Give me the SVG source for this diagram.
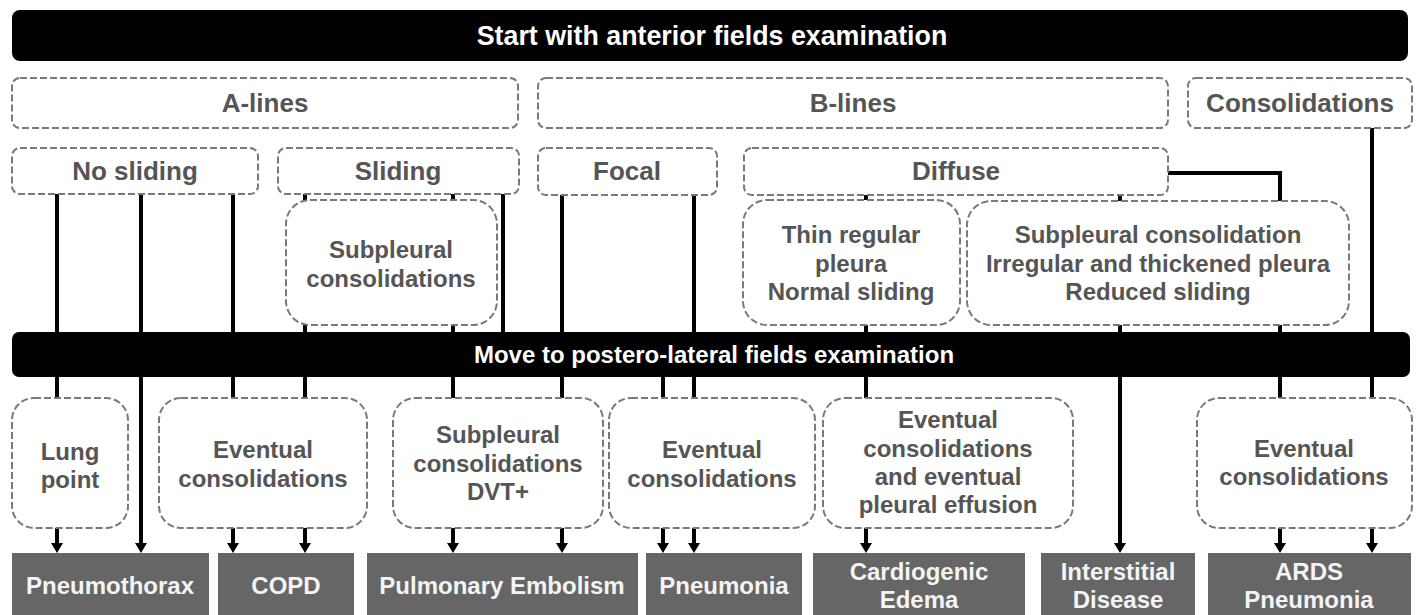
<svg xmlns="http://www.w3.org/2000/svg" width="1417" height="615" viewBox="0 0 1417 615">
<style>
.bar{fill:#000}
.bartxt{fill:#fff;font-family:"Liberation Sans",Arial,sans-serif;font-weight:bold;text-anchor:middle}
.dash{fill:#fff;stroke:#7a7a7a;stroke-width:2;stroke-dasharray:7 3}
.t{fill:#555;font-family:"Liberation Sans",Arial,sans-serif;font-weight:bold;text-anchor:middle}
.t26{font-size:26px}
.t24{font-size:24px}
.res{fill:#666}
.rt{fill:#f4f4f4;font-family:"Liberation Sans",Arial,sans-serif;font-weight:bold;text-anchor:middle;font-size:24px}
.c{fill:none;stroke:#000;stroke-width:4}
.a{fill:none;stroke:#000;stroke-width:4;marker-end:url(#ah)}
</style>
<defs>
<marker id="ah" markerUnits="userSpaceOnUse" markerWidth="10" markerHeight="12" viewBox="0 0 10 12" refX="2" refY="6" orient="auto">
<path d="M0,0 L10,6 L0,12 z" fill="#000"/>
</marker>
</defs>
<rect width="1417" height="615" fill="#fff"/>

<g id="connectors">
<path class="c" d="M57,194 V332 M57,377 V398"/>
<path class="a" d="M57,528 V545"/>
<path class="c" d="M141,194 V332"/>
<path class="a" d="M141,377 V545"/>
<path class="c" d="M233,194 V332 M233,377 V398"/>
<path class="a" d="M233,528 V545"/>
<path class="c" d="M305,194 V201 M305,325 V332 M305,377 V398"/>
<path class="a" d="M305,528 V545"/>
<path class="c" d="M453,194 V201 M453,325 V332 M453,377 V398"/>
<path class="a" d="M453,528 V545"/>
<path class="c" d="M503,194 V332"/>
<path class="c" d="M562,195 V332 M562,377 V398"/>
<path class="a" d="M562,528 V545"/>
<path class="c" d="M663,377 V398"/>
<path class="a" d="M663,528 V545"/>
<path class="c" d="M694,195 V332 M694,377 V398"/>
<path class="a" d="M694,528 V545"/>
<path class="c" d="M866,195 V201 M866,325 V332 M866,377 V398"/>
<path class="a" d="M866,528 V545"/>
<path class="c" d="M1120,195 V201 M1120,325 V332"/>
<path class="a" d="M1120,377 V545"/>
<path class="c" d="M1168,173 H1280 V201 M1280,325 V332 M1280,377 V398"/>
<path class="a" d="M1280,528 V545"/>
<path class="c" d="M1372,128 V332 M1372,377 V398"/>
<path class="a" d="M1372,528 V545"/>
</g>

<g id="start">
<rect class="bar" x="12" y="10" width="1396" height="51" rx="8"/>
<text class="bartxt" x="712" y="45" font-size="26.8">Start with anterior fields examination</text>
</g>

<g id="alines"><rect class="dash" x="12" y="78" width="506" height="50" rx="8"/><text class="t t26" x="265" y="112">A-lines</text></g>
<g id="blines"><rect class="dash" x="538" y="78" width="630" height="50" rx="8"/><text class="t t26" x="853" y="112">B-lines</text></g>
<g id="consolidations"><rect class="dash" x="1188" y="78" width="224" height="50" rx="8"/><text class="t t26" x="1300" y="112">Consolidations</text></g>

<g id="nosliding"><rect class="dash" x="12" y="148" width="246" height="46" rx="8"/><text class="t t26" x="135" y="180">No sliding</text></g>
<g id="sliding"><rect class="dash" x="278" y="148" width="241" height="46" rx="8"/><text class="t t26" x="398" y="180">Sliding</text></g>
<g id="focal"><rect class="dash" x="538" y="148" width="179" height="47" rx="8"/><text class="t t26" x="627" y="180">Focal</text></g>
<g id="diffuse"><rect class="dash" x="744" y="148" width="424" height="47" rx="8"/><text class="t t26" x="956" y="180">Diffuse</text></g>

<g id="subpleural1"><rect class="dash" x="286" y="200" width="211" height="125" rx="24"/>
<text class="t t24" x="391" y="258">Subpleural</text><text class="t t24" x="391" y="287">consolidations</text></g>
<g id="thin"><rect class="dash" x="743" y="200" width="217" height="125" rx="24"/>
<text class="t t24" x="851" y="243">Thin regular</text><text class="t t24" x="851" y="272">pleura</text><text class="t t24" x="851" y="300">Normal sliding</text></g>
<g id="irregular"><rect class="dash" x="967" y="201" width="382" height="124" rx="24"/>
<text class="t t24" x="1158" y="243">Subpleural consolidation</text><text class="t t24" x="1158" y="272">Irregular and thickened pleura</text><text class="t t24" x="1158" y="300">Reduced sliding</text></g>

<g id="move">
<rect class="bar" x="12" y="332" width="1398" height="45" rx="7"/>
<text class="bartxt" x="714" y="363" font-size="24">Move to postero-lateral fields examination</text>
</g>

<g id="lungpoint"><rect class="dash" x="12" y="398" width="116" height="130" rx="22"/>
<text class="t t24" x="70" y="460">Lung</text><text class="t t24" x="70" y="488">point</text></g>
<g id="ev1"><rect class="dash" x="159" y="398" width="208" height="130" rx="22"/>
<text class="t t24" x="263" y="458">Eventual</text><text class="t t24" x="263" y="487">consolidations</text></g>
<g id="dvt"><rect class="dash" x="393" y="398" width="210" height="130" rx="22"/>
<text class="t t24" x="498" y="443">Subpleural</text><text class="t t24" x="498" y="472">consolidations</text><text class="t t24" x="498" y="500">DVT+</text></g>
<g id="ev2"><rect class="dash" x="609" y="398" width="206" height="130" rx="22"/>
<text class="t t24" x="712" y="458">Eventual</text><text class="t t24" x="712" y="487">consolidations</text></g>
<g id="ev3"><rect class="dash" x="823" y="398" width="250" height="130" rx="22"/>
<text class="t t24" x="948" y="428">Eventual</text><text class="t t24" x="948" y="457">consolidations</text><text class="t t24" x="948" y="485">and eventual</text><text class="t t24" x="948" y="513">pleural effusion</text></g>
<g id="ev4"><rect class="dash" x="1197" y="398" width="215" height="130" rx="22"/>
<text class="t t24" x="1304" y="457">Eventual</text><text class="t t24" x="1304" y="485">consolidations</text></g>

<g id="pneumothorax"><rect class="res" x="12" y="553" width="197" height="62"/><text class="rt" x="110" y="594">Pneumothorax</text></g>
<g id="copd"><rect class="res" x="218" y="553" width="136" height="62"/><text class="rt" x="286" y="594">COPD</text></g>
<g id="pe"><rect class="res" x="367" y="553" width="271" height="62"/><text class="rt" x="502" y="594">Pulmonary Embolism</text></g>
<g id="pneumonia"><rect class="res" x="646" y="553" width="156" height="62"/><text class="rt" x="724" y="594">Pneumonia</text></g>
<g id="cardio"><rect class="res" x="813" y="553" width="212" height="62"/><text class="rt" x="919" y="580">Cardiogenic</text><text class="rt" x="919" y="608">Edema</text></g>
<g id="interstitial"><rect class="res" x="1041" y="553" width="154" height="62"/><text class="rt" x="1118" y="580">Interstitial</text><text class="rt" x="1118" y="608">Disease</text></g>
<g id="ards"><rect class="res" x="1208" y="553" width="203" height="62"/><text class="rt" x="1309" y="580">ARDS</text><text class="rt" x="1309" y="608">Pneumonia</text></g>
</svg>
